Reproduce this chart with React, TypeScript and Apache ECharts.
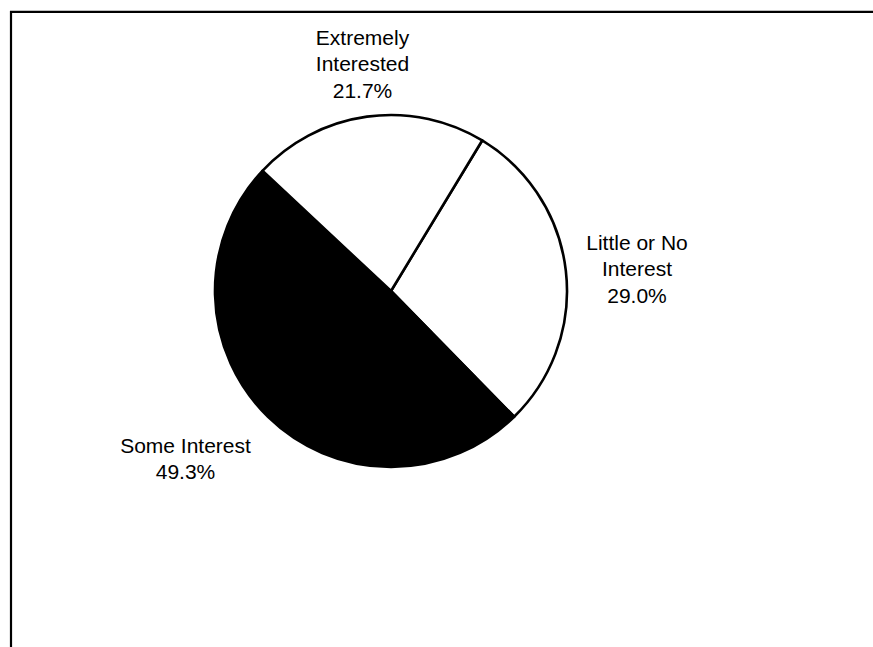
import React, { useEffect, useRef } from "react";
import * as echarts from "echarts";

const categories = ["Little or No Interest", "Some Interest", "Extremely Interested"];
const labelTexts = ["Little or No\nInterest", "Some Interest", "Extremely\nInterested"];
const values = [29.0, 49.3, 21.7];
const sliceColors = ["#ffffff", "#000000", "#ffffff"];
const labelCenters: [number, number][] = [
  [637, 268.5],
  [185.5, 458.5],
  [362.5, 63.5],
];

export default function App() {
  const ref = useRef<HTMLDivElement>(null);
  useEffect(() => {
    if (!ref.current) return;
    const chart = echarts.init(ref.current, null, { renderer: "svg" });
    chart.setOption({
      animation: false,
      backgroundColor: "#ffffff",
      graphic: [
        {
          type: "polyline",
          shape: { points: [[11, 647], [11, 11.8], [873, 11.8]] },
          style: { stroke: "#000", lineWidth: 2.2, fill: "none" },
          silent: true,
        },
      ],
      series: [
        {
          type: "pie",
          center: [391, 291],
          radius: 176,
          startAngle: 58.8,
          clockwise: true,
          silent: true,
          emphasis: { disabled: true },
          itemStyle: { borderColor: "#000", borderWidth: 2.6 },
          labelLine: { show: false },
          label: {
            show: true,
            position: "outside",
            color: "#000",
            fontFamily: "Liberation Sans, Arial, sans-serif",
            fontSize: 21,
            lineHeight: 26.5,
            align: "center",
            formatter: (p: any) => labelTexts[p.dataIndex] + "\n" + values[p.dataIndex].toFixed(1) + "%",
          },
          labelLayout: (p: any) => ({
            x: labelCenters[p.dataIndex][0],
            y: labelCenters[p.dataIndex][1],
            align: "center",
            verticalAlign: "middle",
          }),
          data: categories.map((name, i) => ({
            name,
            value: values[i],
            itemStyle: { color: sliceColors[i] },
          })),
        },
      ],
    });
    return () => chart.dispose();
  }, []);
  return (
    <div
      ref={ref}
      style={{ position: "absolute", left: 0, top: 0, width: 873, height: 647 }}
    />
  );
}
